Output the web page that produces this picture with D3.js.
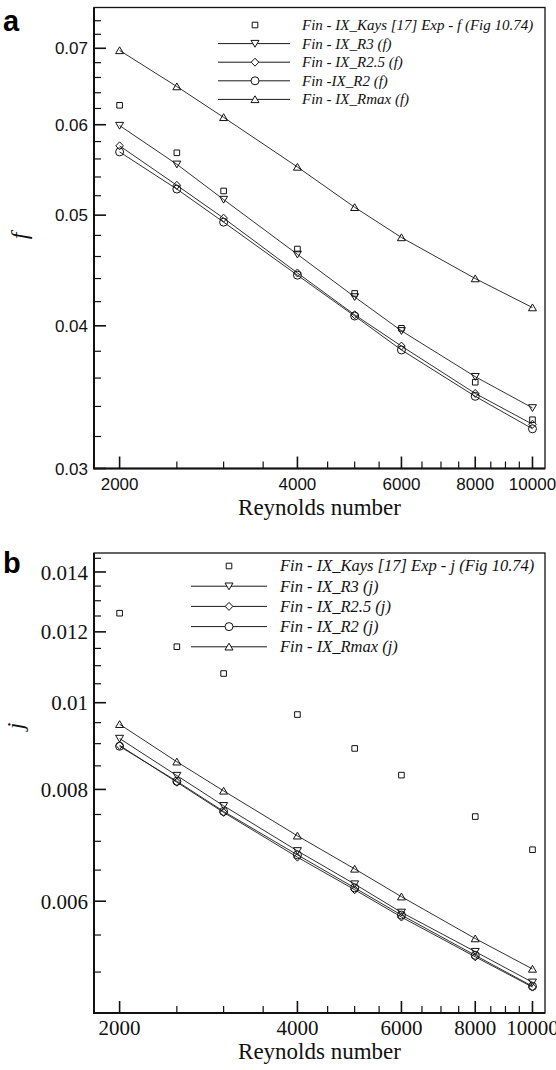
<!DOCTYPE html>
<html>
<head>
<meta charset="utf-8">
<script src="https://cdn.jsdelivr.net/npm/d3@7"></script>
<style>
  body { margin: 0; background: #fff; }
  svg { display: block; }
</style>
</head>
<body>
<svg id="chart" width="556" height="1070"></svg>
<script>
// Reynolds numbers at which every series is sampled
const reynolds = [2000, 2500, 3000, 4000, 5000, 6000, 8000, 10000];

// Friction factor f
const fKays = [0.0624, 0.0567, 0.0525, 0.0467, 0.0427, 0.0398, 0.0357, 0.0331];
const fR3   = [0.0599, 0.0554, 0.0516, 0.0462, 0.0424, 0.0396, 0.0361, 0.0339];
const fR25  = [0.0575, 0.0531, 0.0497, 0.0445, 0.0409, 0.0384, 0.0349, 0.0328];
const fR2   = [0.0568, 0.0527, 0.0493, 0.0443, 0.0408, 0.0381, 0.0347, 0.0325];
const fRmax = [0.0697, 0.0648, 0.0609, 0.0551, 0.0508, 0.0478, 0.0440, 0.0415];

// Colburn factor j
const jKays = [0.01259, 0.01155, 0.01078, 0.00970, 0.00889, 0.00830, 0.00746, 0.00685];
const jR3   = [0.00912, 0.00829, 0.00767, 0.00683, 0.00627, 0.00583, 0.00527, 0.00487];
const jR25  = [0.00896, 0.00815, 0.00754, 0.00672, 0.00618, 0.00576, 0.00520, 0.00481];
const jR2   = [0.00894, 0.00817, 0.00756, 0.00676, 0.00621, 0.00579, 0.00522, 0.00482];
const jRmax = [0.00946, 0.00859, 0.00797, 0.00710, 0.00652, 0.00607, 0.00545, 0.00504];

// Axis ticks
const reMajor  = [2000, 4000, 6000, 8000, 10000];
const reLabels = ["2000", "4000", "6000", "8000", "10000"];
const reMinor  = [2500, 3000, 3500, 4500, 5000, 5500, 6500, 7000, 7500, 8500, 9000, 9500];

const fMajor  = [0.03, 0.04, 0.05, 0.06, 0.07];
const fLabels = ["0.03", "0.04", "0.05", "0.06", "0.07"];
const jMajor  = [0.006, 0.008, 0.01, 0.012, 0.014];
const jLabels = ["0.006", "0.008", "0.01", "0.012", "0.014"];

// Legend texts
const fNames = ["Fin - IX_Kays [17] Exp - f (Fig 10.74)", "Fin - IX_R3 (f)", "Fin - IX_R2.5 (f)", "Fin -IX_R2 (f)", "Fin - IX_Rmax (f)"];
const jNames = ["Fin - IX_Kays [17] Exp - j (Fig 10.74)", "Fin - IX_R3 (j)", "Fin - IX_R2.5 (j)", "Fin - IX_R2 (j)", "Fin - IX_Rmax (j)"];
const symbolTypes = ["square", "down", "diamond", "circle", "up"];
const hasLine     = [false, true, true, true, true];

const svg = d3.select("#chart");
const SANS = "'Liberation Sans', Arial, Helvetica, sans-serif";
const SERIF = "'Liberation Serif', 'Times New Roman', Times, serif";

function markerPath(type) {
  switch (type) {
    case "square":  return "M-2.8,-2.8H2.8V2.8H-2.8Z";
    case "down":    return "M-4,-3.2H4L0,3.6Z";
    case "up":      return "M-4,3.2H4L0,-3.6Z";
    case "diamond": return "M0,-4L3.8,0L0,4L-3.8,0Z";
    case "circle":  return "M-4,0A4,4 0 1,0 4,0A4,4 0 1,0 -4,0Z";
  }
}

function drawPanel(cfg) {
  const g = svg.append("g");
  const x = d3.scaleLog().domain([1810, 10500]).range([cfg.left, cfg.right]);
  const y = d3.scaleLog().domain(cfg.yDomain).range([cfg.bottom, cfg.top]);

  // frame
  g.append("rect")
    .attr("x", cfg.left).attr("y", cfg.top)
    .attr("width", cfg.right - cfg.left).attr("height", cfg.bottom - cfg.top)
    .attr("fill", "none").attr("stroke", "#111").attr("stroke-width", 1.3);
  g.append("path")
    .attr("d", `M${cfg.left},${cfg.top}V${cfg.bottom}H${cfg.right}`)
    .attr("fill", "none").attr("stroke", "#111").attr("stroke-width", 2);

  // x ticks (inward)
  g.selectAll(".xmaj").data(reMajor).join("line")
    .attr("x1", d => x(d)).attr("x2", d => x(d))
    .attr("y1", cfg.bottom).attr("y2", cfg.bottom - 12)
    .attr("stroke", "#111").attr("stroke-width", 1.6);
  g.selectAll(".xmin").data(reMinor).join("line")
    .attr("x1", d => x(d)).attr("x2", d => x(d))
    .attr("y1", cfg.bottom).attr("y2", cfg.bottom - 7)
    .attr("stroke", "#111").attr("stroke-width", 1.2);
  g.selectAll(".xlab").data(reMajor).join("text")
    .attr("x", d => x(d)).attr("y", cfg.bottom + cfg.xLabelOffset)
    .attr("text-anchor", "middle")
    .attr("font-family", cfg.tickFont).attr("font-size", cfg.tickSize)
    .attr("fill", "#111")
    .text((d, i) => reLabels[i]);

  // y ticks (inward)
  g.selectAll(".ymaj").data(cfg.yMajor).join("line")
    .attr("x1", cfg.left).attr("x2", cfg.left + 12)
    .attr("y1", d => y(d)).attr("y2", d => y(d))
    .attr("stroke", "#111").attr("stroke-width", 1.6);
  g.selectAll(".ymin").data(cfg.yMinor).join("line")
    .attr("x1", cfg.left).attr("x2", cfg.left + 7)
    .attr("y1", d => y(d)).attr("y2", d => y(d))
    .attr("stroke", "#111").attr("stroke-width", 1.2);
  g.selectAll(".ylab").data(cfg.yMajor).join("text")
    .attr("x", cfg.left - 6).attr("y", d => y(d))
    .attr("dy", "0.36em")
    .attr("text-anchor", "end")
    .attr("font-family", cfg.tickFont).attr("font-size", cfg.tickSize)
    .attr("fill", "#111")
    .text((d, i) => cfg.yLabels[i]);

  // axis titles
  g.append("text")
    .attr("x", (cfg.left + cfg.right) / 2).attr("y", cfg.bottom + cfg.titleOffset)
    .attr("text-anchor", "middle")
    .attr("font-family", SERIF).attr("font-size", 23).attr("fill", "#111")
    .text("Reynolds number");
  g.append("text")
    .attr("transform", `translate(${cfg.yTitleX},${cfg.yTitleY}) rotate(-90)`)
    .attr("text-anchor", "middle")
    .attr("font-family", SERIF).attr("font-style", "italic")
    .attr("font-size", 24).attr("fill", "#111")
    .text(cfg.yTitle);

  // panel letter
  g.append("text")
    .attr("x", 3).attr("y", cfg.letterY)
    .attr("font-family", SANS).attr("font-weight", "bold")
    .attr("font-size", 29).attr("fill", "#000")
    .text(cfg.letter);

  // series
  const line = d3.line().x(d => x(d[0])).y(d => y(d[1]));
  cfg.series.forEach((vals, si) => {
    const pts = reynolds.map((r, i) => [r, vals[i]]);
    if (hasLine[si]) {
      g.append("path").datum(pts)
        .attr("d", line)
        .attr("fill", "none").attr("stroke", "#1a1a1a").attr("stroke-width", 0.9);
    }
    g.selectAll(null).data(pts).join("path")
      .attr("transform", d => `translate(${x(d[0])},${y(d[1])})`)
      .attr("d", markerPath(symbolTypes[si]))
      .attr("fill", "none").attr("stroke", "#111").attr("stroke-width", 1);
  });

  // legend
  const L = cfg.legend;
  cfg.names.forEach((name, i) => {
    const ry = L.y0 + i * L.dy;
    if (hasLine[i]) {
      g.append("line")
        .attr("x1", L.lineX1).attr("x2", L.lineX2)
        .attr("y1", ry).attr("y2", ry)
        .attr("stroke", "#1a1a1a").attr("stroke-width", 1);
    }
    g.append("path")
      .attr("transform", `translate(${L.symX},${ry})`)
      .attr("d", markerPath(symbolTypes[i]))
      .attr("fill", "#fff").attr("stroke", "#111").attr("stroke-width", 1);
    g.append("text")
      .attr("x", L.textX).attr("y", ry).attr("dy", "0.33em")
      .attr("font-family", SERIF).attr("font-style", "italic")
      .attr("font-size", L.size).attr("fill", "#111")
      .text(name);
  });
}

const fMinor = d3.range(32, 76, 2).map(v => v / 1000).filter(v => !fMajor.some(m => Math.abs(m - v) < 1e-9));
const jMinor = d3.range(50, 147, 5).map(v => v / 10000).filter(v => !jMajor.some(m => Math.abs(m - v) < 1e-9));

drawPanel({
  left: 94, right: 545, top: 7.5, bottom: 468.5,
  yDomain: [0.03, 0.076],
  yMajor: fMajor, yLabels: fLabels, yMinor: fMinor,
  tickFont: SANS, tickSize: 17, xLabelOffset: 21, titleOffset: 46,
  yTitle: "f", yTitleX: 27, yTitleY: 236,
  letter: "a", letterY: 31,
  series: [fKays, fR3, fR25, fR2, fRmax],
  names: fNames,
  legend: { y0: 25, dy: 18.6, symX: 255, lineX1: 218, lineX2: 290, textX: 302, size: 15 }
});

drawPanel({
  left: 94, right: 545, top: 553, bottom: 1013,
  yDomain: [0.0045, 0.0147],
  yMajor: jMajor, yLabels: jLabels, yMinor: jMinor,
  tickFont: SERIF, tickSize: 21, xLabelOffset: 22, titleOffset: 46,
  yTitle: "j", yTitleX: 23, yTitleY: 726,
  letter: "b", letterY: 573,
  series: [jKays, jR3, jR25, jR2, jRmax],
  names: jNames,
  legend: { y0: 566, dy: 20.2, symX: 229, lineX1: 191, lineX2: 267, textX: 280, size: 16.5 }
});
</script>
</body>
</html>
